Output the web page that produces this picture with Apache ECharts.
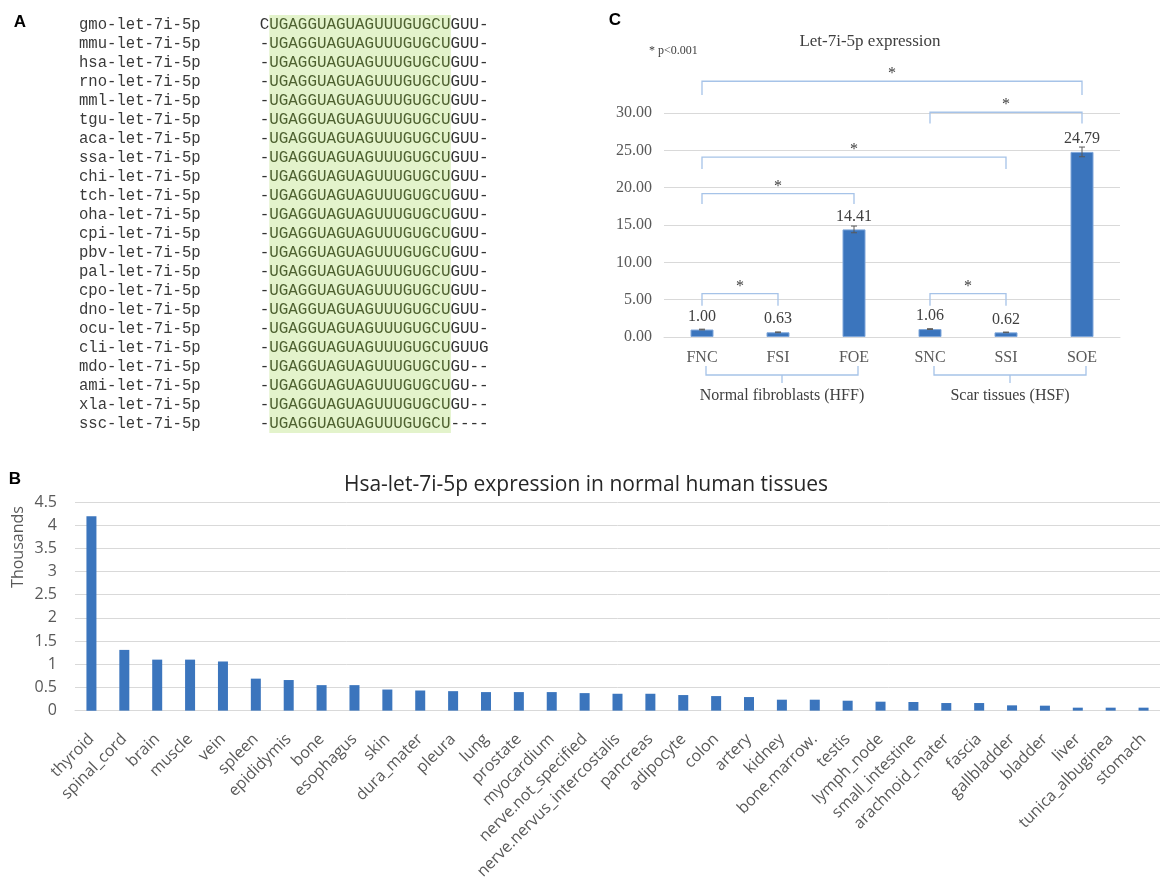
<!DOCTYPE html>
<html><head><meta charset="utf-8">
<script src="https://cdn.jsdelivr.net/npm/echarts@6/dist/echarts.min.js"></script>
<style>html,body{margin:0;padding:0;background:#fff}#c{width:1160px;height:882px}</style>
</head><body><div id="c"></div>
<script>
// ---------- Panel A data ----------
const speciesCodes = ['gmo','mmu','hsa','rno','mml','tgu','aca','ssa','chi','tch','oha','cpi','pbv','pal','cpo','dno','ocu','cli','mdo','ami','xla','ssc'];
const mirSuffix = '-let-7i-5p';
const seqPrefix = ['C','-','-','-','-','-','-','-','-','-','-','-','-','-','-','-','-','-','-','-','-','-'];
const seqCore = 'UGAGGUAGUAGUUUGUGCU';
const seqTail = ['GUU-','GUU-','GUU-','GUU-','GUU-','GUU-','GUU-','GUU-','GUU-','GUU-','GUU-','GUU-','GUU-','GUU-','GUU-','GUU-','GUU-','GUUG','GU--','GU--','GU--','----'];

// ---------- Panel B data (Thousands) ----------
const tissueCats = ['thyroid','spinal_cord','brain','muscle','vein','spleen','epididymis','bone','esophagus','skin','dura_mater','pleura','lung','prostate','myocardium','nerve.not_specified','nerve.nervus_intercostalis','pancreas','adipocyte','colon','artery','kidney','bone.marrow.','testis','lymph_node','small_intestine','arachnoid_mater','fascia','gallbladder','bladder','liver','tunica_albuginea','stomach'];
const tissueValues = [4.19,1.31,1.10,1.10,1.06,0.69,0.66,0.55,0.55,0.455,0.434,0.42,0.40,0.40,0.40,0.378,0.364,0.364,0.336,0.314,0.293,0.236,0.236,0.214,0.193,0.186,0.164,0.164,0.114,0.107,0.064,0.064,0.064];

// ---------- Panel C data ----------
const sampleCats = ['FNC','FSI','FOE','SNC','SSI','SOE'];
const sampleValues = [1.00,0.63,14.41,1.06,0.62,24.79];
const sampleErrors = [0.05,0.05,0.45,0.05,0.04,0.65];
const groupLabels = ['Normal fibroblasts (HFF)','Scar tissues (HSF)'];
const groupFrom = [0,3];
const groupTo = [2,5];
// significance brackets: from category, to category, bar level, end level
const sigFrom = [0,3,0,0,0,3];
const sigTo   = [5,5,4,2,1,4];
const sigTop  = [34.25,30.1,24.1,19.2,5.8,5.8];
const sigEnd  = [32.4,28.6,22.5,17.8,4.2,4.2];

const SERIF = '"Liberation Serif", "Times New Roman", serif';
const SANS = '"Open Sans", sans-serif';
const MONO = '"Liberation Mono", "Courier New", monospace';
const BLUE = '#3B75BD';
const BRACKET = '#A6C3E8';

const chart = echarts.init(document.getElementById('c'), null, {renderer:'canvas'});

// Panel A graphics
const aGraphics = [];
const rowY0 = 25, rowH = 19.0;
aGraphics.push({type:'rect', z:0, shape:{x:269.3, y:15, width:181.6, height:418}, style:{fill:'#E3F3CB'}});
speciesCodes.forEach((code, i) => {
  const y = rowY0 + i*rowH;
  aGraphics.push({type:'text', z:2, x:79, y:y, style:{text: code + mirSuffix, font:'15.6px ' + MONO, fill:'#3a3a3a', align:'left', verticalAlign:'middle'}});
  aGraphics.push({type:'text', z:2, x:259.7, y:y, style:{
    text: '{p|' + seqPrefix[i] + '}{c|' + seqCore + '}{p|' + seqTail[i] + '}',
    align:'left', verticalAlign:'middle',
    rich:{
      p:{font:'15.9px ' + MONO, fill:'#333333'},
      c:{font:'15.9px ' + MONO, fill:'#4E6130'}
    }
  }});
});

const letters = [
  {t:'A', x:20, y:22}, {t:'B', x:15, y:479}, {t:'C', x:615, y:20}
].map(l => ({type:'text', x:l.x, y:l.y, style:{text:l.t, font:'bold 17px "Liberation Sans", Arial, sans-serif', fill:'#000', align:'center', verticalAlign:'middle'}}));

const texts = [
  {type:'text', x:870, y:42, style:{text:'Let-7i-5p expression', font:'17px ' + SERIF, fill:'#404040', align:'center', verticalAlign:'middle'}},
  {type:'text', x:649, y:51, style:{text:'* p<0.001', font:'12px ' + SERIF, fill:'#404040', align:'left', verticalAlign:'middle'}},
  {type:'text', x:586, y:485, style:{text:'Hsa-let-7i-5p expression in normal human tissues', font:'21px ' + SANS, fill:'#262626', align:'center', verticalAlign:'middle'}},
  {type:'text', x:18, y:547, rotation:Math.PI/2, style:{text:'Thousands', font:'16px ' + SANS, fill:'#595959', align:'center', verticalAlign:'middle'}}
];

const option = {
  animation:false,
  backgroundColor:'#fff',
  graphic: aGraphics.concat(letters, texts),
  grid:[
    {left:664, top:113, width:456, height:224, containLabel:false},
    {left:75, top:502, width:1085, height:210, containLabel:false}
  ],
  xAxis:[
    {type:'category', gridIndex:0, data:sampleCats,
     axisLine:{lineStyle:{color:'#D9D9D9'}}, axisTick:{show:false},
     axisLabel:{fontFamily:SERIF, fontSize:16, color:'#595959', margin:13}},
    {type:'category', gridIndex:1, data:tissueCats,
     axisLine:{lineStyle:{color:'#D9D9D9'}}, axisTick:{show:false},
     axisLabel:{interval:0, rotate:45, fontFamily:SANS, fontSize:16, color:'#595959', margin:26}}
  ],
  yAxis:[
    {type:'value', gridIndex:0, min:0, max:30, interval:5,
     axisLine:{show:false}, axisTick:{show:false},
     splitLine:{lineStyle:{color:'#D9D9D9'}},
     axisLabel:{fontFamily:SERIF, fontSize:16, color:'#595959', margin:12, formatter:v=>v.toFixed(2)}},
    {type:'value', gridIndex:1, min:0, max:4.5, interval:0.5,
     axisLine:{show:false}, axisTick:{show:false},
     splitLine:{lineStyle:{color:'#D9D9D9'}},
     axisLabel:{fontFamily:SANS, fontSize:16, color:'#595959', margin:18}}
  ],
  series:[
    {type:'bar', xAxisIndex:0, yAxisIndex:0, data:sampleValues, barWidth:23,
     itemStyle:{color:BLUE, borderColor:'#7EA6DA', borderWidth:1},
     label:{show:true, position:'top', distance:5, fontFamily:SERIF, fontSize:16, color:'#404040', formatter:p=>p.value.toFixed(2)}},
    {type:'custom', xAxisIndex:0, yAxisIndex:0, clip:false, z:5,
     data: sampleValues.map((v,i)=>[i, v, sampleErrors[i]]),
     encode:{x:0, y:1},
     renderItem:(params, api)=>{
       const x = api.value(0), v = api.value(1), e = api.value(2);
       const lo = api.coord([x, v - e]), hi = api.coord([x, v + e]);
       const cw = 3;
       return {type:'group', children:[
         {type:'line', shape:{x1:lo[0], y1:lo[1], x2:hi[0], y2:hi[1]}, style:{stroke:'#595959', lineWidth:1}},
         {type:'line', shape:{x1:hi[0]-cw, y1:hi[1], x2:hi[0]+cw, y2:hi[1]}, style:{stroke:'#595959', lineWidth:1}},
         {type:'line', shape:{x1:lo[0]-cw, y1:lo[1], x2:lo[0]+cw, y2:lo[1]}, style:{stroke:'#595959', lineWidth:1}}
       ]};
     }},
    {type:'custom', xAxisIndex:0, yAxisIndex:0, clip:false, z:4, silent:true,
     data: sigFrom.map((f,i)=>[f, sigTo[i], sigTop[i], sigEnd[i]]),
     encode:{x:0, y:2},
     renderItem:(params, api)=>{
       const a = api.coord([api.value(0), api.value(2)]);
       const b = api.coord([api.value(1), api.value(2)]);
       const ea = api.coord([api.value(0), api.value(3)]);
       return {type:'group', children:[
         {type:'polyline', shape:{points:[[a[0],ea[1]],[a[0],a[1]],[b[0],a[1]],[b[0],ea[1]]]}, style:{stroke:BRACKET, lineWidth:1.3, fill:null}},
         {type:'text', style:{text:'*', x:(a[0]+b[0])/2, y:a[1]+1, font:'16px ' + SERIF, fill:'#404040', align:'center', verticalAlign:'bottom'}}
       ]};
     }},
    {type:'custom', xAxisIndex:0, yAxisIndex:0, clip:false, z:4, silent:true,
     data: groupFrom.map((f,i)=>[f, groupTo[i], 0]),
     encode:{x:0, y:2},
     renderItem:(params, api)=>{
       const a = api.coord([api.value(0), 0]);
       const b = api.coord([api.value(1), 0]);
       const x1 = a[0] + 4, x2 = b[0] + 4, mid = (x1 + x2)/2;
       const yb = a[1];
       return {type:'group', children:[
         {type:'polyline', shape:{points:[[x1,yb+29],[x1,yb+38],[x2,yb+38],[x2,yb+29]]}, style:{stroke:BRACKET, lineWidth:1.3, fill:null}},
         {type:'line', shape:{x1:mid, y1:yb+38, x2:mid, y2:yb+46}, style:{stroke:BRACKET, lineWidth:1.3}},
         {type:'text', style:{text:groupLabels[params.dataIndex], x:mid, y:yb+59, font:'16px ' + SERIF, fill:'#404040', align:'center', verticalAlign:'middle'}}
       ]};
     }},
    {type:'bar', xAxisIndex:1, yAxisIndex:1, data:tissueValues, barWidth:10,
     itemStyle:{color:BLUE}}
  ]
};
chart.setOption(option);
</script>
</body></html>
